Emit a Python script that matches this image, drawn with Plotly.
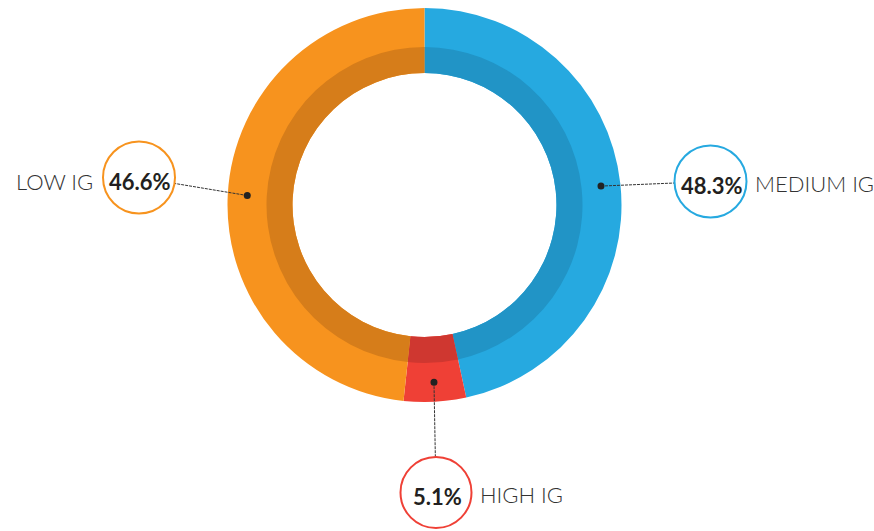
import math
import plotly.graph_objects as go

# ---- data ----
categories = ["MEDIUM IG", "HIGH IG", "LOW IG"]
slice_shares = [46.6, 5.1, 48.3]          # angular share of each slice as drawn
pct_labels = ["48.3%", "5.1%", "46.6%"]    # percentage text shown in callouts

# ---- styles ----
outer_colors = ["#26A9E0", "#EF4036", "#F7931E"]
inner_colors = ["#2194C6", "#CF3730", "#D67D1A"]

W, H = 874, 531
CX, CY = 424.5, 205.0
R_OUT, R_MID, R_HOLE = 197.0, 158.0, 132.0
R_DOT = 177.5

# callout layout (pixel positions of the circle badges and label side)
callouts = {
    "MEDIUM IG": dict(cx=710.5, cy=181.5, r=36, side="right"),
    "HIGH IG": dict(cx=436.0, cy=492.5, r=35.5, side="right"),
    "LOW IG": dict(cx=139.0, cy=177.5, r=36, side="left"),
}


def px(x):
    return x / W


def py(y):
    return 1 - y / H


def domain(r):
    return dict(x=[px(CX - r), px(CX + r)], y=[py(CY + r), py(CY - r)])


fig = go.Figure()
fig.add_trace(go.Pie(
    labels=categories, values=slice_shares, sort=False, direction="clockwise",
    rotation=0, hole=R_HOLE / R_OUT, domain=domain(R_OUT),
    marker=dict(colors=outer_colors, line=dict(width=0)),
    textinfo="none", hoverinfo="label+percent", showlegend=False,
))
fig.add_trace(go.Pie(
    labels=categories, values=slice_shares, sort=False, direction="clockwise",
    rotation=0, hole=R_HOLE / R_MID, domain=domain(R_MID),
    marker=dict(colors=inner_colors, line=dict(width=0)),
    textinfo="none", hoverinfo="skip", showlegend=False,
))

shapes = []
annotations = []
total = sum(slice_shares)
cum = 0.0
for cat, share, pct, col in zip(categories, slice_shares, pct_labels, outer_colors):
    mid = (cum + share / 2) / total * 2 * math.pi
    cum += share
    dx, dy = CX + R_DOT * math.sin(mid), CY - R_DOT * math.cos(mid)
    c = callouts[cat]
    # point on badge circle facing the dot
    ang = math.atan2(dy - c["cy"], dx - c["cx"])
    ex, ey = c["cx"] + c["r"] * math.cos(ang), c["cy"] + c["r"] * math.sin(ang)
    shapes.append(dict(type="line", xref="paper", yref="paper",
                       x0=px(dx), y0=py(dy), x1=px(ex), y1=py(ey),
                       line=dict(color="#333333", width=1, dash="3px,1px"), layer="above"))
    shapes.append(dict(type="circle", xref="paper", yref="paper",
                       x0=px(dx - 3.5), x1=px(dx + 3.5), y0=py(dy + 3.5), y1=py(dy - 3.5),
                       fillcolor="#222222", line=dict(width=0), layer="above"))
    shapes.append(dict(type="circle", xref="paper", yref="paper",
                       x0=px(c["cx"] - c["r"]), x1=px(c["cx"] + c["r"]),
                       y0=py(c["cy"] + c["r"]), y1=py(c["cy"] - c["r"]),
                       fillcolor="rgba(255,255,255,0)", line=dict(color=col, width=2), layer="above"))
    annotations.append(dict(xref="paper", yref="paper", x=px(c["cx"] + 1), y=py(c["cy"] + 4),
                            text=f"<b>{pct}</b>", showarrow=False, xanchor="center", yanchor="middle",
                            font=dict(family="Lato", size=22, color="#231F20")))
    if c["side"] == "right":
        annotations.append(dict(xref="paper", yref="paper", x=px(c["cx"] + c["r"] + 6), y=py(c["cy"] + 2),
                                text=cat, showarrow=False, xanchor="left", yanchor="middle",
                                font=dict(family="Lato", size=22, color="#333333", weight=300)))
    else:
        annotations.append(dict(xref="paper", yref="paper", x=px(c["cx"] - c["r"] - 8), y=py(c["cy"] + 4),
                                text=cat, showarrow=False, xanchor="right", yanchor="middle",
                                font=dict(family="Lato", size=22, color="#333333", weight=300)))

fig.update_layout(
    width=W, height=H, margin=dict(l=0, r=0, t=0, b=0),
    paper_bgcolor="white", plot_bgcolor="white",
    shapes=shapes, annotations=annotations, showlegend=False,
)

fig.write_html("out.html", config={"displayModeBar": False},
               post_script="document.body.style.margin='0';")
